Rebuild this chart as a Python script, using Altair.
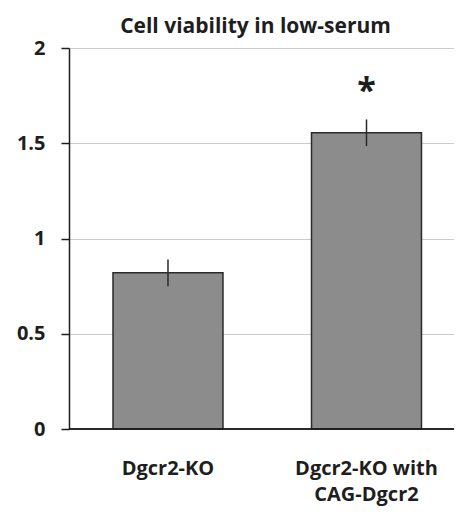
import altair as alt
import pandas as pd

categories = ["Dgcr2-KO", "Dgcr2-KO with CAG-Dgcr2"]
values = [0.82, 1.555]
errors = [0.07, 0.07]
marks = ["", "*"]
y_ticks = [0, 0.5, 1, 1.5, 2]

df = pd.DataFrame({
    "group": categories,
    "value": values,
    "lo": [v - e for v, e in zip(values, errors)],
    "hi": [v + e for v, e in zip(values, errors)],
    "star": marks,
    "star_y": [v + e + 0.145 for v, e in zip(values, errors)],
})

FONT = "Open Sans"
INK = "#1e1e1e"

x = alt.X("group:N", sort=categories, title=None,
          scale=alt.Scale(paddingInner=0.446, paddingOuter=0.1927, align=0.575),
          axis=alt.Axis(labelAngle=0, labelFontSize=20, labelFontWeight="bold",
                        labelFont=FONT, labelColor=INK, labelPadding=29,
                        labelLineHeight=26, ticks=False, domain=False,
                        labelExpr="datum.label == 'Dgcr2-KO with CAG-Dgcr2' ? ['Dgcr2-KO with', 'CAG-Dgcr2'] : datum.label"))

y_scale = alt.Scale(domain=[0, 2], nice=False)

bars = alt.Chart(df).mark_bar(color="#8c8c8c", stroke="#2a2a2a", strokeWidth=1.5).encode(
    x=x,
    y=alt.Y("value:Q", scale=y_scale, title=None,
            axis=alt.Axis(values=y_ticks, format="~g", labelFontSize=20, labelFontWeight="bold",
                          labelFont=FONT, labelColor=INK, labelPadding=16,
                          tickSize=8, tickColor=INK, domainColor=INK,
                          domainWidth=1.5, tickWidth=1.5,
                          gridColor="#cacaca", gridWidth=1.2)),
)

err = alt.Chart(df).mark_rule(color="#2a2a2a", strokeWidth=1.5).encode(
    x=alt.X("group:N", sort=categories),
    y=alt.Y("lo:Q", scale=y_scale),
    y2="hi:Q",
)

stars = alt.Chart(df).mark_text(font=FONT, fontSize=34, fontWeight="bold", color=INK,
                                baseline="middle").encode(
    x=alt.X("group:N", sort=categories),
    y=alt.Y("star_y:Q", scale=y_scale),
    text="star:N",
)

zero = alt.Chart(df).mark_rule(color=INK, strokeWidth=1.5).encode(
    y=alt.datum(0),
)

chart = alt.layer(bars, err, zero, stars).properties(
    width=385, height=381,
    title=alt.TitleParams("Cell viability in low-serum", font=FONT, fontSize=21,
                          fontWeight="bold", color=INK, anchor="middle", offset=1, dx=-6),
    autosize=alt.AutoSizeParams(type="none"),
    padding={"left": 61, "top": 40, "right": 0, "bottom": 79},
).configure_view(stroke=None)

chart.save("out.html", embed_options={"renderer": "svg", "actions": False})
